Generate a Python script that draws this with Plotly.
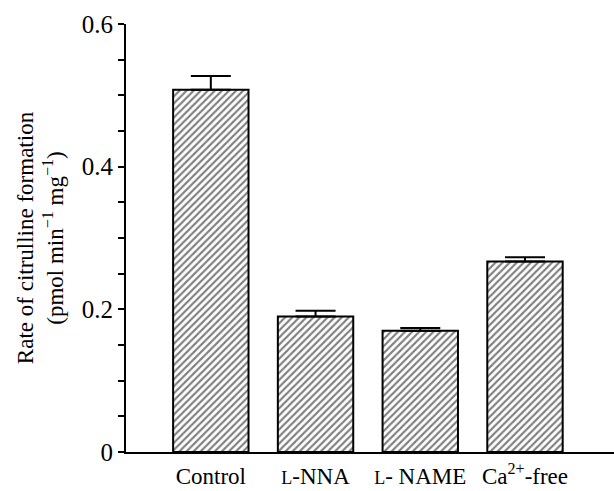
import plotly.graph_objects as go

categories = ["Control", "<span style='font-size:18px'>L</span>-NNA",
              "<span style='font-size:18px'>L</span>- NAME", "Ca<sup>2+</sup>-free"]
values = [0.508, 0.190, 0.170, 0.267]
errors = [0.019, 0.008, 0.004, 0.006]
ytick_vals = [0, 0.05, 0.1, 0.15, 0.2, 0.25, 0.3, 0.35, 0.4, 0.45, 0.5, 0.55, 0.6]
ytick_text = ["0", "", "", "", "0.2", "", "", "", "0.4", "", "", "", "0.6"]

fig = go.Figure()
fig.add_trace(go.Bar(
    x=list(range(len(categories))),
    y=values,
    width=0.72,
    marker=dict(
        color="white",
        line=dict(color="black", width=2),
        pattern=dict(shape="/", fgcolor="black", bgcolor="white", size=5, solidity=0.42, fillmode="overlay"),
    ),
    error_y=dict(type="data", symmetric=False, array=errors, arrayminus=[0] * len(errors),
                 color="black", thickness=2, width=20),
))

font_family = "Liberation Serif, Times New Roman, serif"
fig.update_layout(
    width=614, height=491,
    margin=dict(l=126, r=0, t=24, b=39),
    plot_bgcolor="white", paper_bgcolor="white",
    showlegend=False,
    font=dict(family=font_family, color="black", size=22),
    xaxis=dict(
        range=[-0.81, 3.85],
        tickvals=list(range(len(categories))),
        ticktext=categories,
        showline=True, linecolor="black", linewidth=2,
        ticks="", ticklen=0, showgrid=False, zeroline=False,
        tickfont=dict(size=23),
        ticklabelstandoff=2,
        automargin=False,
    ),
    yaxis=dict(
        range=[0, 0.6],
        tickvals=ytick_vals, ticktext=ytick_text,
        showline=True, linecolor="black", linewidth=2,
        ticks="outside", ticklen=6, tickwidth=2, tickcolor="black",
        showgrid=False, zeroline=False,
        tickfont=dict(size=25),
        automargin=False,
        title=dict(text="Rate of citrulline formation<br>(pmol min<sup>\u22121</sup> mg<sup>\u22121</sup>)",
                   font=dict(size=23), standoff=12),
    ),
)

fig.write_html("out.html", config={"displayModeBar": False},
               post_script="document.body.style.margin='0';")
